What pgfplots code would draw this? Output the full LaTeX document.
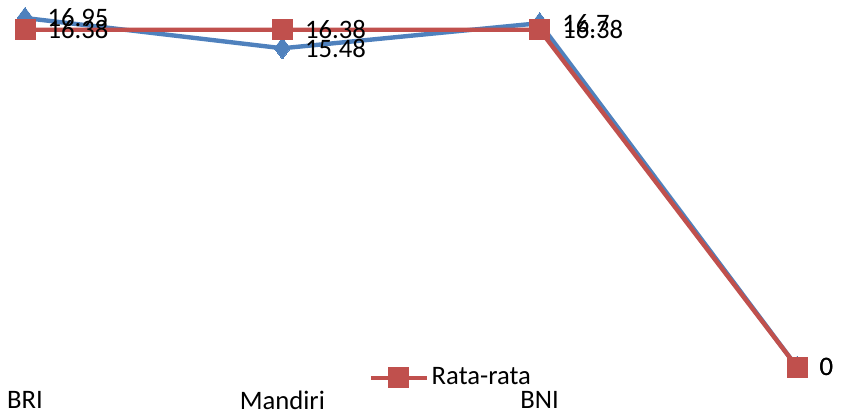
\documentclass[border=0pt]{standalone}
\usepackage{pgfplots}
\pgfplotsset{compat=1.18}
\usepackage{fontspec}
\setmainfont{Carlito}
\definecolor{cblue}{HTML}{4F81BD}
\definecolor{cred}{HTML}{C0504D}
\begin{document}
\fontsize{20pt}{24pt}\selectfont
\begin{tikzpicture}[x=1pt,y=1pt]
\useasboundingbox (-18.75,-36) rectangle (612,275.25);
\begin{axis}[
  at={(0,0)}, anchor=south west,
  scale only axis, width=579pt, height=261.75pt,
  xmin=0, xmax=3, ymin=0, ymax=16.95,
  clip=false,
  axis line style={draw=none},
  major tick length=0pt,
  xtick={0,1,2}, xticklabels={BRI,Mandiri,BNI},
  ytick=\empty,
  xticklabel style={anchor=center, yshift=-25pt, inner sep=0pt},
  /pgf/number format/assume math mode=true,
  nodes near coords,
  nodes near coords align={horizontal},
  every node near coord/.append style={anchor=west, inner sep=0pt, xshift=17pt, text=black, font=\fontsize{20pt}{24pt}\selectfont},
  legend style={at={(0.552,-0.0315)}, anchor=center, draw=none, fill=none, font=\fontsize{20pt}{24pt}\selectfont, inner sep=0pt},
  legend image code/.code={\draw[mark repeat=2, mark phase=2] plot coordinates {(0pt,0pt) (21pt,0pt) (42pt,0pt)};},
]
\addplot[cblue, line width=3.3pt, mark=diamond*, mark size=8pt, mark options={solid, fill=cblue, line width=0pt}, forget plot]
  coordinates {(0,16.95) (1,15.48) (2,16.7) (3,0)};
\addplot[cred, line width=3.3pt, mark=square*, mark size=7.5pt, mark options={solid, fill=cred, line width=0pt}]
  coordinates {(0,16.38) (1,16.38) (2,16.38) (3,0)};
\addlegendentry{Rata-rata}
\end{axis}
\end{tikzpicture}
\end{document}
